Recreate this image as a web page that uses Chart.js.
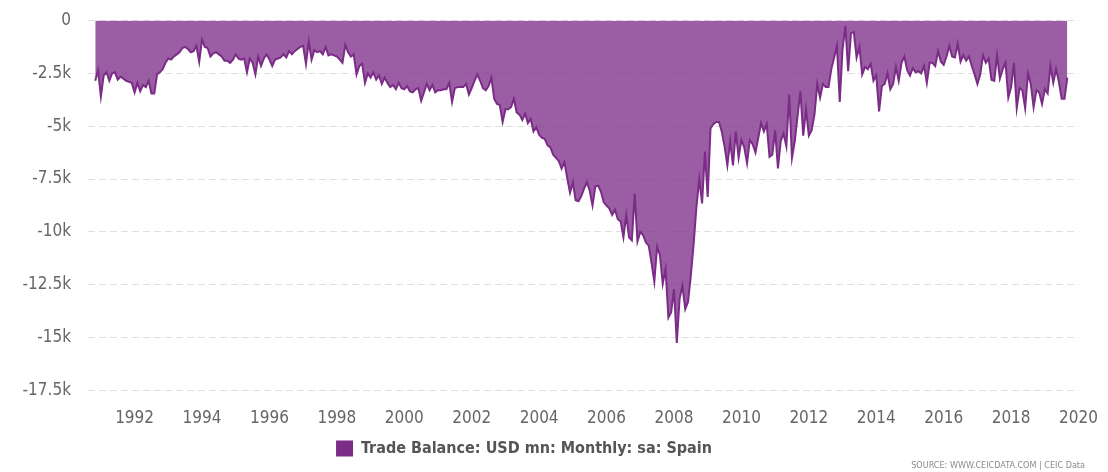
<!DOCTYPE html>
<html>
<head>
<meta charset="utf-8">
<script src="https://cdn.jsdelivr.net/npm/chart.js@4.4.1/dist/chart.umd.min.js"></script>
<style>
  html, body { margin: 0; padding: 0; background: #ffffff; }
  #wrap { position: relative; width: 1108px; height: 472px; overflow: hidden; }
  #source {
    position: absolute; right: 23px; top: 460px;
    font: 9px 'Liberation Sans Narrow', 'DejaVu Sans Condensed', 'Liberation Sans', sans-serif;
    color: #8c8c8c; white-space: nowrap;
  }
</style>
</head>
<body>
<div id="wrap">
  <canvas id="chart" width="1108" height="472"></canvas>
  <div id="source">SOURCE: WWW.CEICDATA.COM | CEIC Data</div>
</div>
<script>
// ---- Data: Trade Balance, USD mn, monthly, seasonally adjusted, Spain ----
const seriesName = 'Trade Balance: USD mn: Monthly: sa: Spain';
const startYear = 1990;
const startMonth = 11; // first observation: Nov 1990

// Nov 1990 - Dec 1999
const tb1990s = [
  -2850, -2350,
  -3600, -2600, -2450, -2850, -2500, -2450, -2800, -2650, -2750, -2850, -2900, -2950,
  -3400, -2950, -3350, -3050, -3150, -2850, -3450, -3450, -2550, -2450, -2300, -2000,
  -1800, -1850, -1700, -1600, -1500, -1300, -1250, -1350, -1500, -1450, -1200, -1950,
  -900, -1250, -1300, -1700, -1550, -1500, -1600, -1700, -1900, -1900, -2000, -1850,
  -1600, -1800, -1850, -1800, -2450, -1800, -2000, -2550, -1700, -2150, -1800, -1600,
  -1850, -2150, -1850, -1800, -1750, -1600, -1750, -1450, -1600, -1450, -1350, -1250,
  -1200, -2050, -1000, -1850, -1400, -1500, -1450, -1600, -1250, -1650, -1600, -1650,
  -1700, -1850, -2000, -1150, -1500, -1700, -1600, -2550, -2150, -2050, -2950, -2500,
  -2700, -2450, -2800, -2600, -3000, -2700, -2950, -3150, -3050, -3250, -2950, -3200
];
// Jan 2000 - Dec 2009
const tb2000s = [
  -3250, -3100, -3350, -3400, -3250, -3200, -3800, -3400, -3000, -3300, -3050, -3400,
  -3300, -3300, -3250, -3250, -2950, -3850, -3200, -3150, -3150, -3150, -3000, -3500,
  -3200, -2850, -2550, -2850, -3200, -3300, -3100, -2700, -3700, -3950, -4000, -4800,
  -4200, -4200, -4100, -3700, -4350, -4450, -4700, -4400, -4850, -4650, -5250, -5050,
  -5400, -5550, -5600, -5900, -6000, -6350, -6500, -6650, -7000, -6700, -7450, -8150,
  -7650, -8500, -8550, -8300, -7950, -7650, -8050, -8750, -7850, -7800, -8100, -8600,
  -8750, -8900, -9200, -8950, -9400, -9500, -10250, -9200, -10250, -10400, -8200, -10450,
  -10000, -10150, -10500, -10650, -11450, -12350, -10700, -11100, -12450, -11750, -14050, -13800,
  -12700, -15250, -13150, -12550, -13650, -13300, -12050, -10550, -8800, -7500, -8650, -6200,
  -8350, -5100, -4900, -4800, -4800, -5250, -5950, -6850, -5700, -6850, -5250, -6500
];
// Jan 2010 - Sep 2019
const tb2010s = [
  -5650, -6000, -6750, -5650, -5850, -6250, -5550, -4850, -5250, -4900, -6450, -6350,
  -5200, -7000, -5700, -5350, -5950, -3500, -6500, -5700, -4500, -3350, -5450, -4200,
  -5450, -5200, -4450, -3000, -3650, -3000, -3150, -3150, -2300, -1750, -1200, -3850,
  -1350, -250, -2400, -600, -550, -1750, -1250, -2550, -2200, -2300, -2050, -2850,
  -2600, -4300, -3100, -3000, -2500, -3250, -3000, -2200, -2850, -2000, -1700, -2350,
  -2600, -2250, -2450, -2400, -2500, -2150, -2950, -2000, -2000, -2150, -1450, -1950,
  -2100, -1700, -1200, -1700, -1750, -1100, -1950, -1650, -1900, -1700, -2150, -2550,
  -3000, -2550, -1650, -2000, -1800, -2800, -2850, -1650, -2750, -2300, -2000, -3650,
  -3150, -2000, -4150, -3200, -3300, -4150, -2500, -3000, -4100, -3300, -3400, -3950,
  -3250, -3450, -2150, -2950, -2300, -2900, -3700, -3700, -2700
];

// Axis tick values
const xTickYears = [1992, 1994, 1996, 1998, 2000, 2002, 2004, 2006, 2008, 2010, 2012, 2014, 2016, 2018, 2020];
const yTickValues = [0, -2500, -5000, -7500, -10000, -12500, -15000, -17500];

// ---- Build chart ----
const allValues = [...tb1990s, ...tb2000s, ...tb2010s];
const points = allValues.map((v, i) => ({ x: startYear + (startMonth - 1 + i) / 12, y: v }));

const FONT = "'Liberation Sans Narrow', 'DejaVu Sans Condensed', 'Liberation Sans', sans-serif";
Chart.defaults.font.family = FONT;

const LINE = '#7b2c87';
const FILL = 'rgba(123, 44, 135, 0.76)';
const LEGEND_TEXT = '#555555';

// shift the legend a little to the left, as in the original layout
const legendShift = {
  id: 'legendShift',
  afterLayout(chart) {
    const lg = chart.legend;
    if (lg) { lg.left -= 19; lg.right -= 19; }
  }
};

new Chart(document.getElementById('chart'), {
  type: 'line',
  data: {
    datasets: [{
      label: seriesName,
      data: points,
      borderColor: LINE,
      backgroundColor: FILL,
      borderWidth: 2,
      pointRadius: 0,
      pointHoverRadius: 0,
      tension: 0,
      fill: 'origin'
    }]
  },
  plugins: [legendShift],
  options: {
    responsive: false,
    animation: false,
    devicePixelRatio: 1,
    layout: { padding: { top: 20.5, right: 22, bottom: 5.5, left: 0 } },
    plugins: {
      tooltip: { enabled: false },
      legend: {
        display: true,
        position: 'bottom',
        labels: {
          color: LEGEND_TEXT,
          font: { size: 16, weight: 'bold', family: FONT },
          boxWidth: 17,
          boxHeight: 16,
          padding: 15,
          generateLabels: (chart) => [{
            text: seriesName,
            fillStyle: LINE,
            strokeStyle: LINE,
            fontColor: LEGEND_TEXT,
            lineWidth: 0,
            hidden: false,
            datasetIndex: 0
          }]
        }
      }
    },
    scales: {
      x: {
        type: 'linear',
        min: 1990.618,
        max: 2020,
        grid: { display: false },
        border: { display: false },
        afterBuildTicks: (s) => { s.ticks = xTickYears.map(v => ({ value: v })); },
        afterFit: (s) => { s.height = 35; },
        ticks: {
          color: '#666666',
          font: { size: 17 },
          padding: 10,
          autoSkip: false,
          maxRotation: 0,
          callback: (v) => String(v)
        }
      },
      y: {
        min: -17500,
        max: 0,
        afterBuildTicks: (s) => { s.ticks = yTickValues.map(v => ({ value: v })); },
        afterFit: (s) => { s.width = 88; s.paddingTop = 0; s.paddingBottom = 0; },
        grid: { color: '#e0e0e0', lineWidth: 1, drawTicks: false },
        border: { display: false, dash: [7, 4] },
        ticks: {
          color: '#666666',
          font: { size: 17 },
          padding: 17,
          callback: (v) => v === 0 ? '0' : (v / 1000) + 'k'
        }
      }
    }
  }
});
</script>
</body>
</html>
